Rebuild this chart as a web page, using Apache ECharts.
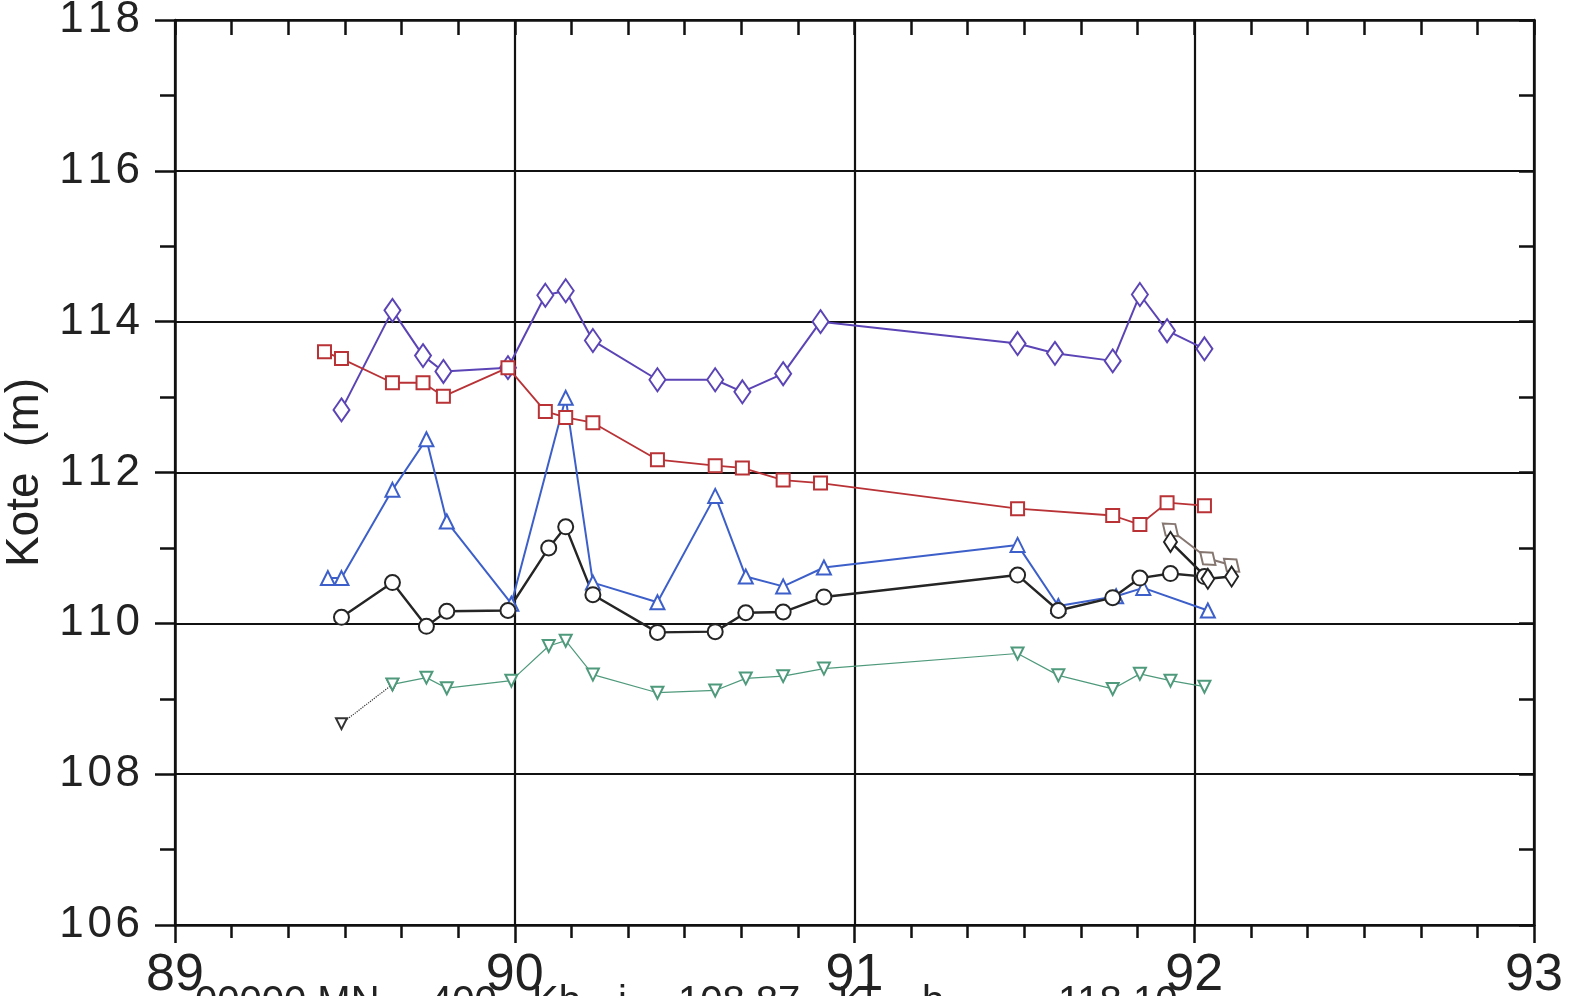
<!DOCTYPE html>
<html>
<head>
<meta charset="utf-8">
<script src="https://cdn.jsdelivr.net/npm/echarts@6/dist/echarts.min.js"></script>
<style>html,body{margin:0;padding:0;background:#fff;}#c{width:1571px;height:996px;}</style>
</head>
<body>
<div id="c"></div>
<script>
// Station (km) and level (m) per series
var purpleX = [89.49, 89.64, 89.73, 89.79, 89.98, 90.09, 90.15, 90.23, 90.42, 90.59, 90.67, 90.79, 90.90, 91.48, 91.59, 91.76, 91.84, 91.92, 92.03];
var purpleY = [112.83, 114.15, 113.55, 113.34, 113.39, 114.35, 114.41, 113.75, 113.23, 113.23, 113.07, 113.31, 114.00, 113.71, 113.58, 113.48, 114.36, 113.88, 113.64];

var redX = [89.44, 89.49, 89.64, 89.73, 89.79, 89.98, 90.09, 90.15, 90.23, 90.42, 90.59, 90.67, 90.79, 90.90, 91.48, 91.76, 91.84, 91.92, 92.03];
var redY = [113.60, 113.51, 113.19, 113.19, 113.01, 113.39, 112.81, 112.73, 112.66, 112.17, 112.09, 112.06, 111.90, 111.86, 111.52, 111.43, 111.31, 111.60, 111.56];

var blueX = [89.45, 89.49, 89.64, 89.74, 89.80, 89.99, 90.15, 90.23, 90.42, 90.59, 90.68, 90.79, 90.91, 91.48, 91.60, 91.77, 91.85, 92.04];
var blueY = [110.60, 110.60, 111.77, 112.44, 111.35, 110.26, 112.99, 110.54, 110.28, 111.69, 110.62, 110.49, 110.74, 111.04, 110.23, 110.36, 110.47, 110.17];

var blackX = [89.49, 89.64, 89.74, 89.80, 89.98, 90.10, 90.15, 90.23, 90.42, 90.59, 90.68, 90.79, 90.91, 91.48, 91.60, 91.76, 91.84, 91.93, 92.03];
var blackY = [110.08, 110.54, 109.96, 110.16, 110.17, 111.00, 111.28, 110.38, 109.88, 109.89, 110.14, 110.15, 110.35, 110.64, 110.17, 110.34, 110.60, 110.66, 110.62];

var greenX = [89.64, 89.74, 89.80, 89.99, 90.10, 90.15, 90.23, 90.42, 90.59, 90.68, 90.79, 90.91, 91.48, 91.60, 91.76, 91.84, 91.93, 92.03];
var greenY = [109.19, 109.28, 109.14, 109.24, 109.70, 109.77, 109.32, 109.08, 109.11, 109.27, 109.30, 109.40, 109.60, 109.31, 109.13, 109.33, 109.24, 109.16];

var dottedX = [89.49, 89.64];
var dottedY = [108.67, 109.19];

var greyX = [91.93, 92.04, 92.11];
var greyY = [111.24, 110.86, 110.77];

var darkX = [91.93, 92.04, 92.11];
var darkY = [111.08, 110.59, 110.62];

var xTicks = [89, 90, 91, 92, 93];
var yTicks = [106, 108, 110, 112, 114, 116, 118];
var footParts = ["00000 MN", "400", "Kb", "i", "108.87", "Kl", "b", "118.10"];
var footLeft = [195, 430, 532, 618, 678, 838, 922, 1058];

function pairs(xs, ys) { return xs.map(function (x, i) { return [x, ys[i]]; }); }

var chart = echarts.init(document.getElementById('c'), null, { renderer: 'canvas' });
var lab = { fontFamily: 'Liberation Sans', color: '#222' };
function mkSeries(name, xs, ys, color, symbol, size, lw, extra) {
  var s = {
    name: name, type: 'line', data: pairs(xs, ys), symbol: symbol, symbolSize: size,
    lineStyle: { color: color, width: lw }, itemStyle: { color: color, borderColor: color, borderWidth: 2 },
    animation: false, z: 5
  };
  if (extra) Object.keys(extra).forEach(function (k) { s[k] = extra[k]; });
  return s;
}
var graphics = footParts.map(function (t, i) {
  return { type: 'text', left: footLeft[i], top: 983, style: { text: t, fontSize: 40, fontFamily: 'Liberation Sans', fill: '#222' } };
});
var option = {
  backgroundColor: '#fff',
  animation: false,
  grid: { left: 175, right: 37, top: 20, bottom: 71, containLabel: false, outerBoundsMode: 'none' },
  xAxis: [{
    type: 'value', min: xTicks[0], max: xTicks[xTicks.length - 1], interval: 1,
    axisLine: { show: true, onZero: false, lineStyle: { color: '#111', width: 2.5 } },
    axisTick: { show: true, inside: false, length: 18, lineStyle: { color: '#111', width: 2.5 } },
    minorTick: { show: true, splitNumber: 6, length: 13, lineStyle: { color: '#111', width: 2.5 } },
    splitLine: { show: true, lineStyle: { color: '#111', width: 2.2 } },
    axisLabel: Object.assign({ fontSize: 52, margin: 25 }, lab)
  }, {
    type: 'value', position: 'top', min: 89, max: 93, interval: 1,
    axisLine: { show: true, onZero: false, lineStyle: { color: '#111', width: 2.5 } },
    axisTick: { show: true, inside: true, length: 15, lineStyle: { color: '#111', width: 2.5 } },
    minorTick: { show: true, splitNumber: 6, length: 15, lineStyle: { color: '#111', width: 2.5 } },
    splitLine: { show: false }, axisLabel: { show: false }
  }],
  yAxis: [{
    type: 'value', min: yTicks[0], max: yTicks[yTicks.length - 1], interval: 2,
    name: 'Kote  (m)', nameLocation: 'middle', nameGap: 124, nameRotate: 90,
    nameTextStyle: Object.assign({ fontSize: 46 }, lab),
    axisLine: { show: true, onZero: false, lineStyle: { color: '#111', width: 2.5 } },
    axisTick: { show: true, inside: false, length: 20, lineStyle: { color: '#111', width: 2.5 } },
    minorTick: { show: true, splitNumber: 2, length: 15, lineStyle: { color: '#111', width: 2.5 } },
    splitLine: { show: true, lineStyle: { color: '#111', width: 2.2 } },
    axisLabel: Object.assign({
      fontSize: 44, margin: 35,
      formatter: function (v) { return String(v).split('').join('\u200A'); }
    }, lab)
  }, {
    type: 'value', position: 'right', min: 106, max: 118, interval: 2,
    axisLine: { show: true, onZero: false, lineStyle: { color: '#111', width: 2.5 } },
    axisTick: { show: true, inside: true, length: 15, lineStyle: { color: '#111', width: 2.5 } },
    minorTick: { show: true, splitNumber: 2, length: 15, lineStyle: { color: '#111', width: 2.5 } },
    splitLine: { show: false }, axisLabel: { show: false }
  }],
  graphic: graphics,
  series: [
    mkSeries('dotted', dottedX, dottedY, '#333', 'emptyTriangle', 11, 1.2, { lineStyle: { color: '#333', width: 1.2, type: 'dotted' }, symbolRotate: 180, z: 4 }),
    mkSeries('green', greenX, greenY, '#4f9a7c', 'emptyTriangle', 12, 1.2, { symbolRotate: 180 }),
    mkSeries('purple', purpleX, purpleY, '#5b44b5', 'emptyDiamond', [16, 23], 2),
    mkSeries('red', redX, redY, '#b83236', 'emptyRect', 13, 1.8),
    mkSeries('blue', blueX, blueY, '#3d5fc9', 'emptyTriangle', 14, 2),
    mkSeries('black', blackX, blackY, '#252525', 'emptyCircle', 15, 2.4),
    mkSeries('grey', greyX, greyY, '#857670', 'emptyDiamond', [15, 20], 2, { symbolRotate: 50 }),
    mkSeries('dark', darkX, darkY, '#222', 'emptyDiamond', [13, 20], 2.5)
  ]
};
chart.setOption(option);
</script>
</body>
</html>
